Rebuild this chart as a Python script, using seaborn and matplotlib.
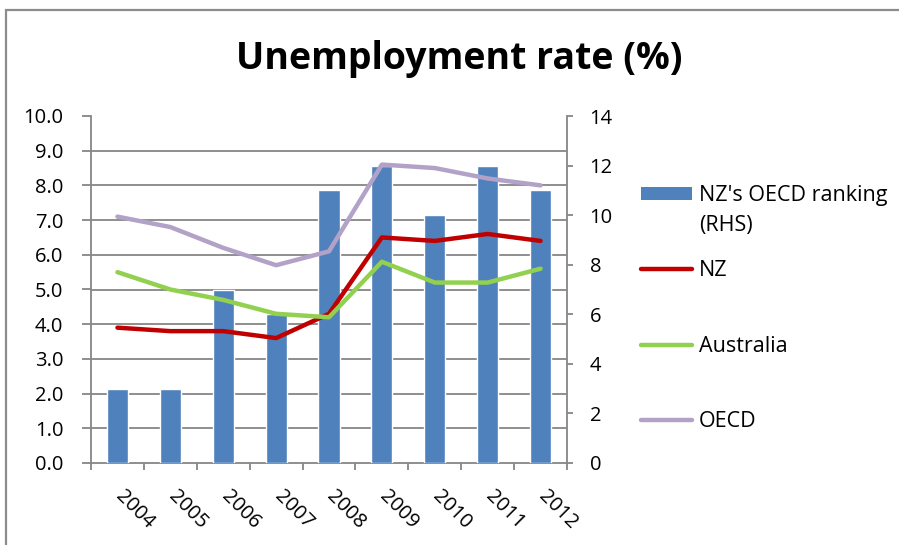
import numpy as np
import pandas as pd
import matplotlib
matplotlib.use("Agg")
import matplotlib.pyplot as plt
from matplotlib.patches import Rectangle, Patch
from matplotlib.lines import Line2D
from matplotlib.ticker import FixedLocator
from matplotlib.transforms import ScaledTranslation
import seaborn as sns

years = ["2004", "2005", "2006", "2007", "2008", "2009", "2010", "2011", "2012"]
ranking = [3, 3, 7, 6, 11, 12, 10, 12, 11]
nz = [3.9, 3.8, 3.8, 3.6, 4.3, 6.5, 6.4, 6.6, 6.4]
australia = [5.5, 5.0, 4.7, 4.3, 4.2, 5.8, 5.2, 5.2, 5.6]
oecd = [7.1, 6.8, 6.2, 5.7, 6.1, 8.6, 8.5, 8.2, 8.0]
left_ticks = [0, 1, 2, 3, 4, 5, 6, 7, 8, 9, 10]
right_ticks = [0, 2, 4, 6, 8, 10, 12, 14]

sns.set_theme(style="white")
plt.rcParams["font.family"] = ["Open Sans", "DejaVu Sans"]
plt.rcParams["text.color"] = "black"

C_BAR = "#4F81BD"
C_NZ = "#C00000"
C_AU = "#92D050"
C_OECD = "#B3A2C7"
C_AX = "#868686"
FS = 14.5
LFS = 15.5

fig = plt.figure(figsize=(8.99, 5.45), dpi=100)
fig.patch.set_facecolor("white")

# outer frame
fig.add_artist(Rectangle((6 / 899, -0.2), 1.2, 1.2 - 10 / 545,
                         transform=fig.transFigure, fill=False,
                         edgecolor="#8c8c8c", lw=1.6, clip_on=False))

ax_bar = fig.add_axes([91 / 899, 82 / 545, 476 / 899, 347 / 545])
df = pd.DataFrame({"year": years, "ranking": ranking, "NZ": nz,
                   "Australia": australia, "OECD": oecd})
sns.barplot(data=df, x="year", y="ranking", color=C_BAR, width=0.4,
            saturation=1, ax=ax_bar, zorder=3)

ax_line = ax_bar.twinx()
ax_line.patch.set_visible(False)
xs = np.arange(len(years))
for col, c in [("NZ", C_NZ), ("Australia", C_AU), ("OECD", C_OECD)]:
    sns.lineplot(x=xs, y=df[col].values, color=c, lw=3.2, ax=ax_line,
                 zorder=5, solid_capstyle="round")

# ---- bar axes (right scale) ----
ax_bar.set_ylim(0, 14)
ax_bar.set_xlim(-0.5, len(years) - 0.5)
ax_bar.yaxis.tick_right()
ax_bar.set_yticks(right_ticks)
ax_bar.set_yticklabels([str(t) for t in right_ticks])
ax_bar.yaxis.set_minor_locator(FixedLocator([t * 14 / 10 for t in left_ticks]))
ax_bar.grid(False)
ax_bar.yaxis.grid(True, which="minor", color=C_AX, lw=1.3, zorder=0)
ax_bar.set_axisbelow(True)
ax_bar.tick_params(axis="y", which="minor", left=False, right=False, length=0)
ax_bar.tick_params(axis="y", which="major", left=False, right=True,
                   labelleft=False, labelright=True, length=4.3, width=1.3,
                   color=C_AX, labelsize=FS, pad=12, labelcolor="black")
ax_bar.set_xlabel("")
ax_bar.set_ylabel("")
for s in ["top", "left"]:
    ax_bar.spines[s].set_visible(False)
for s in ["bottom", "right"]:
    ax_bar.spines[s].set_color(C_AX)
    ax_bar.spines[s].set_linewidth(1.3)

ax_bar.set_xticks(range(len(years)))
ax_bar.set_xticklabels(years, rotation=-45, ha="left", va="top",
                       rotation_mode="anchor", fontsize=FS, color="black")
ax_bar.xaxis.set_minor_locator(FixedLocator(np.arange(-0.5, len(years), 1.0)))
ax_bar.tick_params(axis="x", which="major", length=0, pad=16.5)
ax_bar.tick_params(axis="x", which="minor", bottom=True, length=5, width=1.3,
                   color=C_AX)
shift = ScaledTranslation(8 / 100, 0, fig.dpi_scale_trans)
for lab in ax_bar.get_xticklabels():
    lab.set_transform(lab.get_transform() + shift)

# ---- line axes (left scale) ----
ax_line.set_ylim(0, 10)
ax_line.set_xlim(-0.5, len(years) - 0.5)
ax_line.yaxis.tick_left()
ax_line.set_yticks(left_ticks)
ax_line.set_yticklabels([f"{t:.1f}" for t in left_ticks])
ax_line.tick_params(axis="y", left=True, right=False, labelleft=True,
                    labelright=False, length=6.5, width=1.3,
                    color=C_AX, labelsize=FS, pad=13.5, labelcolor="black")
ax_line.set_ylabel("")
ax_line.grid(False)
for s in ["top", "right", "bottom"]:
    ax_line.spines[s].set_visible(False)
ax_line.spines["left"].set_color(C_AX)
ax_line.spines["left"].set_linewidth(1.3)

fig.text(459 / 899, 1 - 69 / 545, "Unemployment rate (%)", ha="center",
         va="baseline", fontsize=27, fontweight="bold", color="black")

handles = [Patch(facecolor=C_BAR, edgecolor="none"),
           Line2D([], [], color=C_NZ, lw=3.2),
           Line2D([], [], color=C_AU, lw=3.2),
           Line2D([], [], color=C_OECD, lw=3.2)]
labels = ["NZ's OECD ranking", "NZ", "Australia", "OECD"]
leg = fig.legend(handles, labels, loc="upper left",
                 bbox_to_anchor=(641 / 899, 1 - 185 / 545), frameon=False,
                 fontsize=LFS, handlelength=2.35, handleheight=0.6,
                 handletextpad=0.33, labelspacing=2.53, borderpad=0,
                 borderaxespad=0)
for t in leg.get_texts():
    t.set_color("black")

fig.canvas.draw()
t0 = leg.get_texts()[0]
bb = t0.get_window_extent().transformed(fig.transFigure.inverted())
fig.text(bb.x0, (bb.y0 + bb.y1) / 2 - 30 / 545, "(RHS)", ha="left",
         va="center", fontsize=LFS, color="black")

fig.savefig("out.png", dpi=100, facecolor="white")
